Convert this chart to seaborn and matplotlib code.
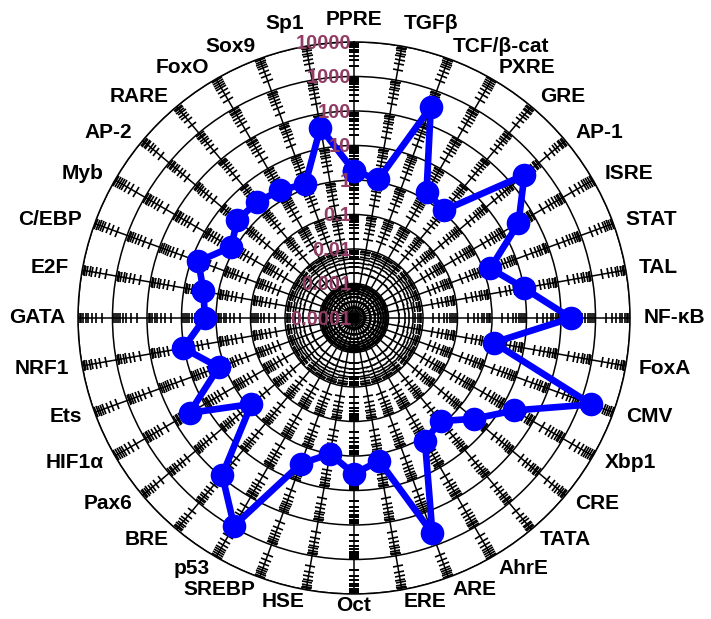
import numpy as np
import matplotlib
matplotlib.use('Agg')
import matplotlib.pyplot as plt
import seaborn as sns
from matplotlib.markers import MarkerStyle
from matplotlib.transforms import Affine2D, offset_copy

# response elements, clockwise from the top
sitios = ['PPRE', 'TGFβ', 'TCF/β-cat', 'PXRE', 'GRE', 'AP-1', 'ISRE', 'STAT',
          'TAL', 'NF-κB', 'FoxA', 'CMV', 'Xbp1', 'CRE', 'TATA', 'AhrE', 'ARE',
          'ERE', 'Oct', 'HSE', 'SREBP', 'p53', 'BRE', 'Pax6', 'HIF1α', 'Ets',
          'NRF1', 'GATA', 'E2F', 'C/EBP', 'Myb', 'AP-2', 'RARE', 'FoxO', 'Sox9',
          'Sp1']
atividade = [1.8, 1.2, 320, 1.6, 1.2, 280, 32, 1.6, 10, 195, 1.3, 2100, 23,
             3.5, 0.8, 1.3, 440, 1.6, 3.3, 1.0, 3.1, 900, 88, 0.76, 32, 1.5,
             10.5, 2.1, 2.7, 6.3, 1.3, 2.6, 2.4, 1.9, 1.35, 40]
escala_r = [1e-4, 1e-3, 1e-2, 1e-1, 1, 10, 100, 1000, 10000]
escala_txt = ['0.0001', '0.001', '0.01', '0.1', '1', '10', '100', '1000', '10000']

sns.set_style('white')
plt.rcParams['font.family'] = ['Liberation Sans', 'DejaVu Sans']

fig = plt.figure(figsize=(7.11, 6.19), dpi=100)
ax = fig.add_axes([0.1097, 0.0404, 0.7764, 0.8918], projection='polar')
ax.set_theta_zero_location('N')
ax.set_theta_direction(-1)
ax.set_rscale('log')
ax.set_rlim(escala_r[0], escala_r[-1])

n = len(sitios)
graus = np.arange(n) * 360 / n
theta = np.deg2rad(graus)

ax.set_thetagrids(graus, labels=[''] * n)
ax.set_rgrids(escala_r, labels=[''] * len(escala_r))
ax.grid(True, color='black', lw=1.1)
ax.spines['polar'].set_linewidth(1.1)
ax.spines['polar'].set_color('black')

# minor log ticks across each spoke
menores = np.array([m * 10.0 ** k for k in range(-4, 4) for m in range(2, 10)])
for th, g in zip(theta, graus):
    mk = MarkerStyle('_', transform=Affine2D().rotate_deg(-g))
    ax.plot(np.full(len(menores), th), menores, ls='none', marker=mk,
            ms=7.5, mew=1.2, color='black', zorder=2)

x_fechado = np.append(theta, 2 * np.pi)
y_fechado = np.append(atividade, atividade[0])
sns.lineplot(x=x_fechado, y=y_fechado, ax=ax, sort=False, estimator=None,
             color='#0000ff', lw=4.8, marker='o', markersize=17,
             markeredgewidth=0, zorder=4)
ax.set_xlabel('')
ax.set_ylabel('')

# radial scale labels, just left of the top spoke
desloc = offset_copy(ax.transData, fig=fig, x=-2, y=-1, units='points')
for v, t in zip(escala_r, escala_txt):
    ax.text(0, v, t, transform=desloc, ha='right', va='center',
            color='#913c64', fontsize=14.5, fontweight='bold', zorder=6)

# category labels outside the outer ring
for th, g, nome in zip(theta, graus, sitios):
    s, c = np.sin(th), np.cos(th)
    ha = 'left' if s > 0.05 else ('right' if s < -0.05 else 'center')
    r_label = 10 ** 4.38
    va = 'center'
    if c > 0.97:
        va = 'bottom'
    elif c < -0.97:
        r_label = 10 ** 4.33
    ax.text(th, r_label, nome, ha=ha, va=va, fontsize=15,
            fontweight='bold', color='black', clip_on=False)

fig.savefig('out.png', dpi=100)
